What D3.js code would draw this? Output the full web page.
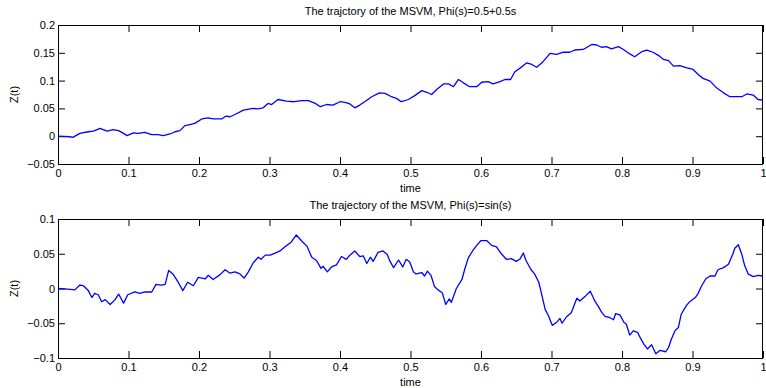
<!DOCTYPE html>
<html>
<head>
<meta charset="utf-8">
<script src="https://cdn.jsdelivr.net/npm/d3@7"></script>
<style>
  body { margin: 0; background: #fff; }
  text { font-family: "Liberation Sans", Arial, sans-serif; font-size: 11px; fill: #000; }
</style>
</head>
<body>
<svg id="chart" width="766" height="388"></svg>
<script>
// top panel: Phi(s)=0.5+0.5s
const topTime = [0, .017, .021, .031, .043, .05, .06, .064, .07, .078, .086, .093, .098, .107, .114, .123, .133, .142, .149, .159,
  .166, .173, .18, .187, .194, .204, .213, .22, .232, .238, .244, .251, .263, .277, .284, .291, .298, .303, .312, .324,
  .335, .346, .355, .365, .372, .381, .39, .4, .407, .414, .421, .428, .435, .445, .456, .464, .473, .48, .487, .497,
  .506, .516, .523, .53, .537, .547, .554, .561, .568, .575, .584, .594, .601, .61, .617, .627, .634, .642, .648, .655,
  .665, .672, .679, .688, .698, .707, .717, .726, .733, .745, .757, .764, .771, .778, .785, .795, .802, .811, .818, .828,
  .835, .844, .852, .859, .866, .873, .882, .892, .901, .908, .915, .925, .934, .944, .953, .963, .97, .977, .986, .993, 1];
const topZ = [0, -.001, -.002, .005, .008, .009, .014, .012, .009, .012, .010, .005, .001, .006, .005, .007, .003, .003, .001, .004,
  .008, .010, .019, .021, .023, .031, .033, .031, .031, .036, .035, .039, .047, .050, .049, .051, .059, .057, .066, .063,
  .062, .064, .064, .059, .053, .057, .056, .062, .061, .058, .051, .056, .062, .071, .078, .077, .071, .068, .062, .066,
  .073, .082, .079, .075, .084, .094, .094, .089, .102, .096, .089, .089, .097, .098, .094, .098, .102, .102, .116, .122,
  .132, .129, .124, .134, .149, .147, .151, .151, .155, .156, .165, .164, .160, .161, .157, .161, .156, .148, .143, .152,
  .155, .151, .145, .138, .136, .126, .127, .123, .120, .111, .104, .099, .087, .078, .071, .071, .071, .076, .074, .066, .065];

// bottom panel: Phi(s)=sin(s)
const bottomTime = [0, .014, .024, .031, .036, .043, .048, .052, .057, .062, .067, .074, .081, .086, .093, .099, .109, .116, .123, .133,
  .139, .147, .152, .157, .163, .17, .177, .184, .192, .199, .209, .213, .22, .23, .237, .244, .251, .258, .264, .27,
  .277, .284, .288, .294, .301, .308, .315, .322, .331, .338, .346, .353, .36, .367, .373, .376, .382, .388, .395, .402,
  .409, .414, .421, .428, .433, .438, .443, .447, .454, .461, .467, .471, .476, .483, .489, .494, .499, .504, .508, .516,
  .52, .524, .529, .534, .539, .545, .55, .555, .558, .565, .573, .577, .582, .588, .594, .6, .608, .615, .622, .628,
  .636, .643, .65, .655, .66, .664, .671, .676, .682, .686, .691, .696, .701, .707, .712, .715, .721, .728, .736, .74,
  .748, .755, .762, .766, .771, .776, .783, .788, .791, .797, .803, .806, .811, .816, .822, .826, .831, .836, .842, .848,
  .854, .862, .866, .87, .875, .88, .884, .891, .896, .904, .908, .913, .919, .925, .932, .936, .944, .951, .957, .96,
  .965, .97, .974, .979, .986, .993, 1];
const bottomZ = [0, -.001, -.002, .005, .004, -.003, -.013, -.007, -.009, -.019, -.016, -.023, -.016, -.008, -.021, -.009, -.005, -.007, -.005, -.005,
  .006, .005, .006, .026, .021, .010, -.003, .009, .004, .016, .014, .019, .013, .020, .027, .022, .024, .021, .015, .024,
  .037, .045, .042, .048, .048, .051, .054, .060, .067, .077, .068, .061, .045, .040, .029, .032, .024, .031, .034, .046,
  .042, .048, .054, .046, .047, .036, .045, .039, .052, .054, .049, .039, .030, .041, .031, .042, .038, .024, .021, .023,
  .018, .025, .019, .003, -.002, -.006, -.023, -.015, -.020, 0, .013, .028, .044, .054, .062, .069, .069, .062, .060, .051,
  .042, .043, .039, .042, .051, .040, .027, .021, .009, -.008, -.030, -.040, -.053, -.049, -.043, -.050, -.041, -.035, -.014, -.018,
  -.011, -.004, -.019, -.025, -.034, -.040, -.042, -.045, -.036, -.038, -.049, -.051, -.067, -.061, -.063, -.071, -.080, -.087, -.081, -.094,
  -.089, -.091, -.085, -.073, -.061, -.056, -.037, -.025, -.019, -.013, -.007, .004, .014, .018, .018, .027, .030, .035, .049, .058,
  .063, .049, .033, .021, .017, .019, .018];

const xTicks = [0, 0.1, 0.2, 0.3, 0.4, 0.5, 0.6, 0.7, 0.8, 0.9, 1];
const topYTicks = [-0.05, 0, 0.05, 0.1, 0.15, 0.2];
const bottomYTicks = [-0.1, -0.05, 0, 0.05, 0.1];

const svg = d3.select('#chart');
const left = 58, right = 763, tickLen = 7;

function tickText(v) {
  return v === 0 ? '0' : d3.format('~g')(v).replace('-', '\u2212');
}

function drawPanel(opts) {
  const { top, bottom, yDomain, yTicks, time, z, title } = opts;
  const x = d3.scaleLinear().domain([0, 1]).range([left, right]);
  const y = d3.scaleLinear().domain(yDomain).range([bottom, top]);
  const g = svg.append('g');

  // ticks on all four sides, pointing inward like matlab
  g.append('g').attr('transform', `translate(0,${bottom})`)
    .call(d3.axisBottom(x).tickValues(xTicks).tickSize(-tickLen).tickPadding(5).tickFormat(tickText));
  g.append('g').attr('transform', `translate(0,${top})`)
    .call(d3.axisTop(x).tickValues(xTicks).tickSize(-tickLen).tickFormat(''));
  g.append('g').attr('transform', `translate(${left},0)`)
    .call(d3.axisLeft(y).tickValues(yTicks).tickSize(-tickLen).tickPadding(3).tickFormat(tickText));
  g.append('g').attr('transform', `translate(${right},0)`)
    .call(d3.axisRight(y).tickValues(yTicks).tickSize(-tickLen).tickFormat(''));

  g.selectAll('.domain').remove();
  g.selectAll('.tick line').attr('stroke', '#000');
  g.selectAll('.tick text').style('font-size', '11px').attr('fill', '#000');

  const pts = time.map((t, i) => [t, z[i]]);
  const line = d3.line().x(d => x(d[0])).y(d => y(d[1]));
  g.append('path')
    .datum(pts)
    .attr('d', line)
    .attr('fill', 'none')
    .attr('stroke', '#0000ff')
    .attr('stroke-width', 1.3)
    .attr('stroke-linejoin', 'round');

  g.append('rect')
    .attr('x', left + 0.5).attr('y', top + 0.5)
    .attr('width', right - left - 1).attr('height', bottom - top)
    .attr('fill', 'none').attr('stroke', '#000');

  g.append('text')
    .attr('x', (left + right) / 2).attr('y', top - 10)
    .attr('text-anchor', 'middle')
    .text(title);
  g.append('text')
    .attr('x', (left + right) / 2).attr('y', bottom + 28)
    .attr('text-anchor', 'middle')
    .text('time');
  g.append('text')
    .attr('transform', `translate(18,${(top + bottom) / 2}) rotate(-90)`)
    .attr('text-anchor', 'middle')
    .text('Z(t)');
}

drawPanel({
  top: 25, bottom: 164, yDomain: [-0.05, 0.2], yTicks: topYTicks,
  time: topTime, z: topZ, title: 'The trajctory of the MSVM, Phi(s)=0.5+0.5s'
});
drawPanel({
  top: 219, bottom: 358, yDomain: [-0.1, 0.1], yTicks: bottomYTicks,
  time: bottomTime, z: bottomZ, title: 'The trajectory of the MSVM, Phi(s)=sin(s)'
});
</script>
</body>
</html>
